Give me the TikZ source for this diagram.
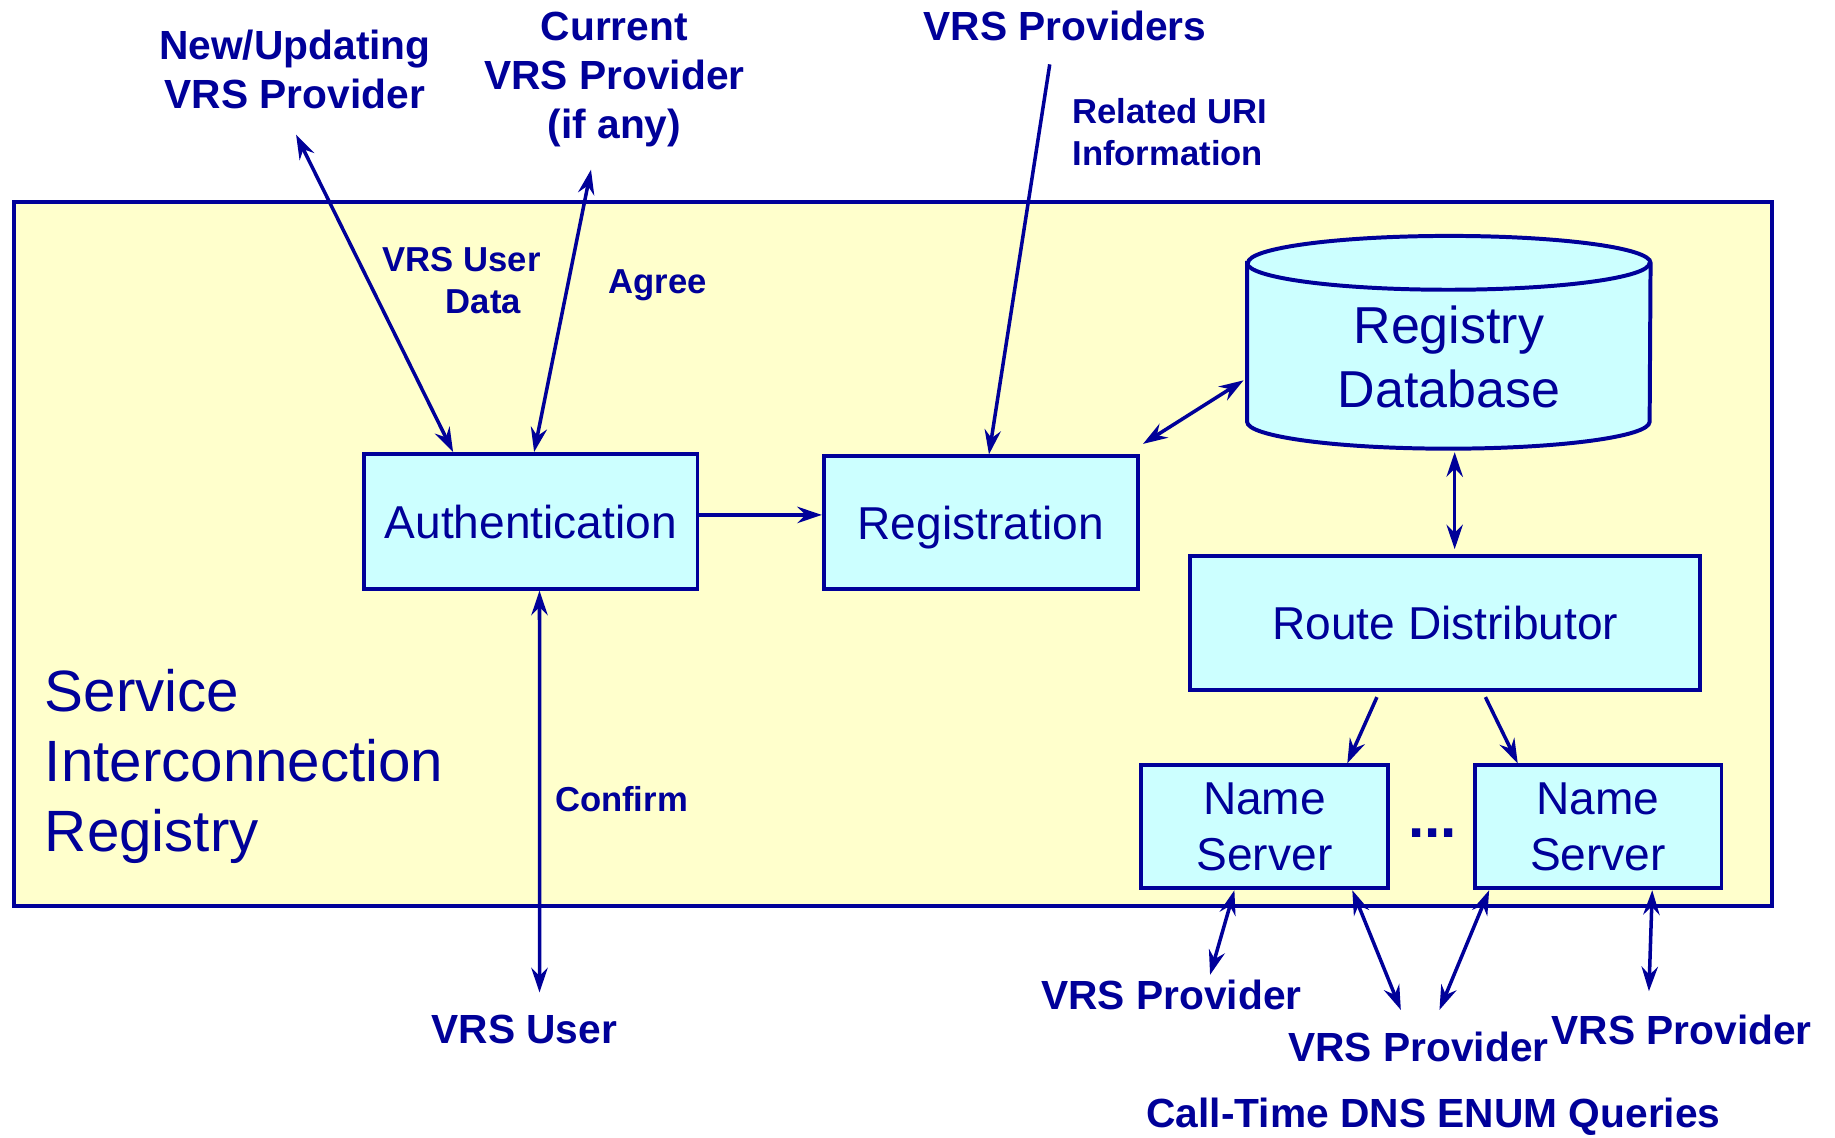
\documentclass[tikz,border=0pt]{standalone}
\usepackage{fontspec}
\setmainfont{Liberation Sans}
\usetikzlibrary{arrows.meta,calc}
\definecolor{navy}{HTML}{000099}
\definecolor{boxfill}{HTML}{CCFFFF}
\definecolor{regbg}{HTML}{FFFFCC}

\begin{document}
\begin{tikzpicture}[x=0.5pt,y=0.5pt,
  >={Stealth[length=10.5pt,width=7pt,inset=3.5pt]},
  blk/.style={draw=navy, line width=1.7pt, fill=boxfill, text=navy,
    font=\fontsize{19.7}{24}\selectfont, inner sep=0pt, align=center},
  big/.style={text=navy, font=\bfseries\fontsize{17.4}{21}\selectfont,
    align=center, inner sep=0pt},
  small/.style={text=navy, font=\bfseries\fontsize{14.8}{18}\selectfont,
    align=center, inner sep=0pt},
  link/.style={draw=navy, line width=1.5pt, ->},
  both/.style={draw=navy, line width=1.5pt, <->}]

\useasboundingbox (0,0) rectangle (1568,-972);

% registry frame
\node[draw=navy, line width=1.7pt, fill=regbg, inner sep=0pt,
  minimum width=751pt, minimum height=300.5pt] (frame) at (763,-473.5) {};
\node[text=navy, font=\fontsize{24.9}{30}\selectfont, align=left,
  inner sep=0pt, anchor=west] (sir) at (38,-655)
  {Service\\Interconnection\\Registry};

% processing blocks
\node[blk, text depth=0pt, minimum width=142.5pt, minimum height=57.5pt] (auth) at (453.5,-445.5) {Authentication};
\node[blk, text depth=0pt, minimum width=134pt, minimum height=56.5pt] (reg) at (838,-446.5) {Registration};
\node[blk, minimum width=218pt, minimum height=57.5pt] (route) at (1235,-532.5) {Route Distributor};
\node[blk, minimum width=105.5pt, minimum height=52.5pt, text depth=0pt] (ns1) at (1080.5,-706.5) {Name\\Server};
\node[blk, minimum width=105.5pt, minimum height=52.5pt, text depth=0pt] (ns2) at (1365.5,-706.5) {Name\\Server};
\node[text=navy, font=\bfseries\fontsize{25}{30}\selectfont, inner sep=0pt] (dots) at (1224,-712) {...};

% registry database cylinder
\node[inner sep=0pt, minimum width=172pt, minimum height=90.5pt] (db) at (1238,-292.5) {};
\path (db.north west) ++(0,-23) coordinate (dbtl);
\path (db.south west) ++(0,23) coordinate (dbbl);
\draw[draw=navy, line width=1.7pt, fill=boxfill]
  (dbtl) -- (dbbl) arc[start angle=180, end angle=360, x radius=172, y radius=23]
  -- (dbtl -| db.east) arc[start angle=0, end angle=180, x radius=172, y radius=23] -- cycle;
\draw[draw=navy, line width=1.7pt]
  (dbtl) arc[start angle=180, end angle=360, x radius=172, y radius=23];
\node[text=navy, font=\fontsize{22.2}{27}\selectfont, align=center, inner sep=0pt]
  (dbtext) at (1238,-305) {Registry\\Database};

% outside parties and labels
\node[big] (newp) at (252,-59) {New/Updating\\VRS Provider};
\node[big] (curp) at (525,-68) {Current\\VRS Provider\\(if any)};
\node[big] (provs) at (910,-22) {VRS Providers};
\node[small, align=left, anchor=west] (uri) at (916,-113) {Related URI\\Information};
\node[small] (udata) at (394.5,-240) {VRS User\\\hspace*{18.5pt}Data};
\node[small] (agree) at (562,-244) {Agree};
\node[small] (confirm) at (531,-683) {Confirm};
\node[big] (user) at (448,-880) {VRS User};
\node[big] (vp1) at (1001,-850) {VRS Provider};
\node[big] (vp2) at (1212,-895) {VRS Provider};
\node[big] (vp3) at (1437,-880) {VRS Provider};
\node[big] (query) at (1225,-954) {Call-Time DNS ENUM Queries};

% free connector ends
\coordinate (newpEnd) at (253,-115);
\coordinate (curpEnd) at (505,-145);
\coordinate (provsEnd) at (897,-55);
\coordinate (userEnd) at (461,-848);
\coordinate (vp1End) at (1034,-833);
\coordinate (vp2aEnd) at (1197,-863);
\coordinate (vp2bEnd) at (1230,-863);
\coordinate (vp3End) at (1409,-847);

% connectors
\draw[both] (newpEnd) -- ($(auth.north west)!0.27!(auth.north east)$);
\draw[both] (curpEnd) -- ($(auth.north west)!0.51!(auth.north east)$);
\draw[link] (provsEnd) -- ($(reg.north west)!0.526!(reg.north east)$);
\draw[link] ($(auth.east)+(0,5.5)$) -- ($(reg.west)+(0,6.5)$);
\draw[both] ($(reg.north east)+(3,9)$) -- ($(db.west)+(-3,-32.5)$);
\draw[both] ($(db.south)+(5,-3)$) -- ($(route.north)+(8,4)$);
\draw[link] ($(route.south west)!0.367!(route.south east)+(0,-4)$) -- ($(ns1.north west)!0.83!(ns1.north east)$);
\draw[link] ($(route.south west)!0.578!(route.south east)+(0,-4)$) -- ($(ns2.north west)!0.18!(ns2.north east)$);
\draw[both] ($(auth.south west)!0.526!(auth.south east)$) -- (userEnd);
\draw[both] ($(ns1.south west)!0.38!(ns1.south east)$) -- (vp1End);
\draw[both] ($(ns1.south west)!0.85!(ns1.south east)$) -- (vp2aEnd);
\draw[both] ($(ns2.south west)!0.066!(ns2.south east)$) -- (vp2bEnd);
\draw[both] ($(ns2.south west)!0.716!(ns2.south east)$) -- (vp3End);
\end{tikzpicture}
\end{document}
